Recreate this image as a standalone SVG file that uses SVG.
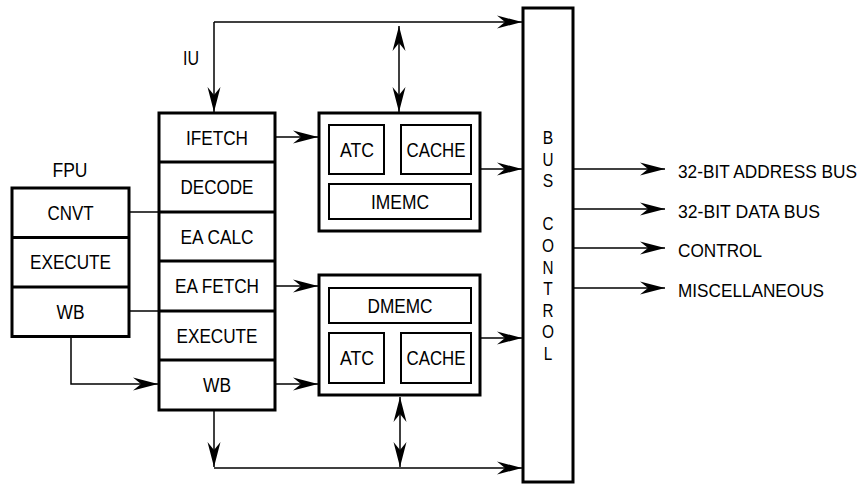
<svg xmlns="http://www.w3.org/2000/svg" width="865" height="485" viewBox="0 0 865 485">
<defs>
<style>
text{font-family:"Liberation Sans",Arial,sans-serif;font-size:20px;fill:#000;text-anchor:middle}
.lbl{text-anchor:start;font-size:18px}
.bus{font-size:19px}
.box{fill:#fff;stroke:#000;stroke-width:3}
.inner{fill:#fff;stroke:#000;stroke-width:2}
.sep{stroke:#000;stroke-width:3;fill:none}
.conn{stroke:#000;stroke-width:1.5;fill:none}
</style>
<marker id="ah" viewBox="-26 -7 27 14" refX="0" refY="0" markerWidth="27" markerHeight="14" markerUnits="userSpaceOnUse" orient="auto-start-reverse">
<path d="M0,0 L-25,-6.5 L-17,0 L-25,6.5 Z" fill="#000"/>
</marker>
</defs>
<rect width="865" height="485" fill="#fff"/>

<g id="connectors">
<path class="conn" d="M214,22 H522" marker-end="url(#ah)"/>
<path class="conn" d="M214,22 V112" marker-end="url(#ah)"/>
<path class="conn" d="M399,26 V112" marker-start="url(#ah)" marker-end="url(#ah)"/>
<path class="conn" d="M275,137 H318" marker-end="url(#ah)"/>
<path class="conn" d="M480,169 H522" marker-end="url(#ah)"/>
<path class="conn" d="M129,212 H159"/>
<path class="conn" d="M129,311 H159"/>
<path class="conn" d="M275,286 H318" marker-end="url(#ah)"/>
<path class="conn" d="M275,384 H318" marker-end="url(#ah)"/>
<path class="conn" d="M480,338 H522" marker-end="url(#ah)"/>
<path class="conn" d="M71,336 V384 H158" marker-end="url(#ah)"/>
<path class="conn" d="M214,410 V467" marker-end="url(#ah)"/>
<path class="conn" d="M214,468 H522" marker-end="url(#ah)"/>
<path class="conn" d="M400,397 V467" marker-start="url(#ah)" marker-end="url(#ah)"/>
<path class="conn" d="M573,169 H665" marker-end="url(#ah)"/>
<path class="conn" d="M573,209 H665" marker-end="url(#ah)"/>
<path class="conn" d="M573,248 H665" marker-end="url(#ah)"/>
<path class="conn" d="M573,288 H665" marker-end="url(#ah)"/>
</g>

<g id="iu-label"><text x="191" y="65" textLength="16" lengthAdjust="spacingAndGlyphs">IU</text></g>
<g id="fpu-label"><text x="70" y="177" textLength="35" lengthAdjust="spacingAndGlyphs">FPU</text></g>

<g id="iu">
<rect class="box" x="159" y="113" width="116" height="297"/>
<path class="sep" d="M159,162 H275 M159,212 H275 M159,261 H275 M159,311 H275 M159,360 H275"/>
<text x="217" y="144.5" textLength="62" lengthAdjust="spacingAndGlyphs">IFETCH</text>
<text x="217" y="194" textLength="73" lengthAdjust="spacingAndGlyphs">DECODE</text>
<text x="217" y="243.5" textLength="73" lengthAdjust="spacingAndGlyphs">EA CALC</text>
<text x="217" y="293" textLength="84" lengthAdjust="spacingAndGlyphs">EA FETCH</text>
<text x="217" y="342.5" textLength="81" lengthAdjust="spacingAndGlyphs">EXECUTE</text>
<text x="217" y="392" textLength="28" lengthAdjust="spacingAndGlyphs">WB</text>
</g>

<g id="fpu">
<rect class="box" x="12" y="188" width="117" height="148.5"/>
<path class="sep" d="M12,237.5 H129 M12,287 H129"/>
<text x="70.5" y="220" textLength="46" lengthAdjust="spacingAndGlyphs">CNVT</text>
<text x="70.5" y="269" textLength="81" lengthAdjust="spacingAndGlyphs">EXECUTE</text>
<text x="70.5" y="319" textLength="28" lengthAdjust="spacingAndGlyphs">WB</text>
</g>

<g id="imemc">
<rect class="box" x="319" y="113" width="161" height="118"/>
<rect class="inner" x="329" y="125" width="55" height="49"/>
<rect class="inner" x="401" y="125" width="70" height="49"/>
<rect class="inner" x="329" y="184" width="142" height="35"/>
<text x="357" y="156.5" textLength="34" lengthAdjust="spacingAndGlyphs">ATC</text>
<text x="436" y="156.5" textLength="59" lengthAdjust="spacingAndGlyphs">CACHE</text>
<text x="400" y="208.5" textLength="58" lengthAdjust="spacingAndGlyphs">IMEMC</text>
</g>

<g id="dmemc">
<rect class="box" x="319" y="275" width="161" height="120"/>
<rect class="inner" x="329" y="288" width="142" height="35"/>
<rect class="inner" x="329" y="333" width="55" height="50"/>
<rect class="inner" x="401" y="333" width="70" height="50"/>
<text x="400" y="312.5" textLength="65" lengthAdjust="spacingAndGlyphs">DMEMC</text>
<text x="357" y="365" textLength="34" lengthAdjust="spacingAndGlyphs">ATC</text>
<text x="436" y="365" textLength="59" lengthAdjust="spacingAndGlyphs">CACHE</text>
</g>

<g id="bus-control">
<rect class="box" x="523" y="8" width="50" height="474"/>
<text class="bus" x="548" y="144" textLength="10.5" lengthAdjust="spacingAndGlyphs">B</text>
<text class="bus" x="548" y="165.6" textLength="11" lengthAdjust="spacingAndGlyphs">U</text>
<text class="bus" x="548" y="187.2" textLength="10.5" lengthAdjust="spacingAndGlyphs">S</text>
<text class="bus" x="548" y="230.4" textLength="11" lengthAdjust="spacingAndGlyphs">C</text>
<text class="bus" x="548" y="252" textLength="12" lengthAdjust="spacingAndGlyphs">O</text>
<text class="bus" x="548" y="273.6" textLength="11" lengthAdjust="spacingAndGlyphs">N</text>
<text class="bus" x="548" y="295.2" textLength="9.5" lengthAdjust="spacingAndGlyphs">T</text>
<text class="bus" x="548" y="316.8" textLength="11" lengthAdjust="spacingAndGlyphs">R</text>
<text class="bus" x="548" y="338.4" textLength="12" lengthAdjust="spacingAndGlyphs">O</text>
<text class="bus" x="548" y="360" textLength="8.5" lengthAdjust="spacingAndGlyphs">L</text>
</g>

<g id="outputs">
<text class="lbl" x="678" y="177.5" style="font-size:17.5px" textLength="179" lengthAdjust="spacingAndGlyphs">32-BIT ADDRESS BUS</text>
<text class="lbl" x="678" y="217.5" textLength="142" lengthAdjust="spacingAndGlyphs">32-BIT DATA BUS</text>
<text class="lbl" x="678" y="257" textLength="84" lengthAdjust="spacingAndGlyphs">CONTROL</text>
<text class="lbl" x="678" y="296.5" textLength="146" lengthAdjust="spacingAndGlyphs">MISCELLANEOUS</text>
</g>
</svg>
